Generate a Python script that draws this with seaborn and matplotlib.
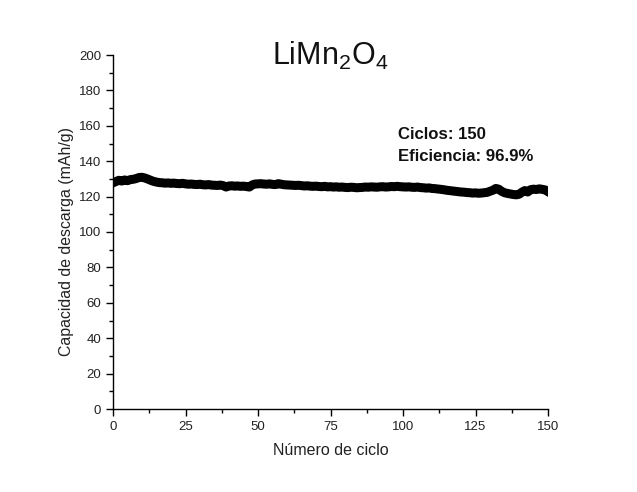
import numpy as np
import pandas as pd
import matplotlib
matplotlib.use("Agg")
import matplotlib.pyplot as plt
import seaborn as sns
from matplotlib.ticker import MultipleLocator

capacidad = [
    128.5, 129.2, 128.8, 129.4, 129.0,
    129.6, 129.8, 130.2, 130.8, 130.9,
    130.5, 129.9, 129.2, 128.6, 128.2,
    127.9, 127.8, 127.6, 127.7, 127.5,
    127.6, 127.4, 127.3, 127.5, 127.2,
    127.0, 127.1, 126.9, 126.8, 127.0,
    126.7, 126.6, 126.8, 126.5, 126.4,
    126.3, 126.5, 126.2, 125.4, 126.0,
    126.1, 125.9, 126.0, 125.8, 125.9,
    125.7, 125.4, 126.6, 127.1, 127.2,
    127.3, 127.1, 127.0, 127.2, 126.9,
    126.8, 127.3, 127.0, 126.7, 126.6,
    126.5, 126.4, 126.3, 126.4, 126.2,
    126.0, 126.1, 125.9, 125.8, 125.9,
    125.7, 125.6, 125.8, 125.5, 125.6,
    125.4, 125.5, 125.3, 125.4, 125.2,
    125.1, 125.3, 125.2, 125.0, 125.1,
    125.2, 125.4, 125.3, 125.5, 125.4,
    125.3, 125.5, 125.6, 125.4, 125.5,
    125.7, 125.6, 125.8, 125.6, 125.5,
    125.4, 125.5, 125.3, 125.2, 125.4,
    125.1, 125.0, 124.8, 124.9, 124.6,
    124.5, 124.3, 124.1, 123.9, 123.6,
    123.4, 123.2, 123.0, 122.8, 122.6,
    122.5, 122.3, 122.2, 122.0, 122.1,
    121.9, 122.0, 122.2, 122.4, 123.0,
    123.6, 124.6, 124.2, 123.0, 122.2,
    121.8, 121.5, 121.2, 121.0, 121.3,
    122.5, 123.4, 122.6, 123.9, 124.2,
    124.0, 124.4, 124.1, 123.8, 122.8,
]
ciclos = list(range(1, len(capacidad) + 1))

titulo = "LiMn$_2$O$_4$"
xlabel = "Número de ciclo"
ylabel = "Capacidad de descarga (mAh/g)"
anotaciones = ["Ciclos: 150", "Eficiencia: 96.9%"]

df = pd.DataFrame({"ciclo": ciclos, "capacidad": capacidad})

sns.set_style("ticks")
plt.rcParams["font.family"] = ["Liberation Sans", "DejaVu Sans"]
plt.rcParams["mathtext.fontset"] = "custom"
plt.rcParams["mathtext.rm"] = "Liberation Sans"
plt.rcParams["mathtext.it"] = "Liberation Sans"

fig = plt.figure(figsize=(6.37, 4.92), dpi=100)
ax = fig.add_axes([113 / 637, 1 - 409 / 492, (548 - 113) / 637, (409 - 55) / 492])

sns.lineplot(data=df, x="ciclo", y="capacidad", ax=ax, color="black",
             linewidth=6.5, legend=False)
for l in ax.lines:
    l.set_solid_capstyle("projecting")

ax.set_xlim(0, 150)
ax.set_ylim(0, 200)
ax.xaxis.set_major_locator(MultipleLocator(25))
ax.xaxis.set_minor_locator(MultipleLocator(12.5))
ax.yaxis.set_major_locator(MultipleLocator(20))
ax.yaxis.set_minor_locator(MultipleLocator(10))
ax.tick_params(which="major", direction="out", length=5, width=1, colors="black",
               labelsize=9.5, labelcolor="#222222")
ax.tick_params(which="minor", direction="out", length=3, width=1, colors="black")
for s in ["top", "right"]:
    ax.spines[s].set_visible(False)
for s in ["left", "bottom"]:
    ax.spines[s].set_linewidth(1)
    ax.spines[s].set_color("black")

ax.set_xlabel(xlabel, fontsize=11.5, color="#222222")
ax.set_ylabel(ylabel, fontsize=11.4, color="#222222")
ax.xaxis.set_label_coords(0.5, -(443 - 409) / 354)
ax.yaxis.set_label_coords(-(113 - 74) / 435, (409 - 242) / 354)

ax.text(0.5, 0.972, titulo, transform=ax.transAxes, ha="center", va="baseline",
        fontsize=22, color="#111111")

ax.text(0.655, 0.762, anotaciones[0], transform=ax.transAxes, ha="left",
        va="baseline", fontsize=12.1, fontweight="bold", color="#111111")
ax.text(0.655, 0.700, anotaciones[1], transform=ax.transAxes, ha="left",
        va="baseline", fontsize=12.1, fontweight="bold", color="#111111")

fig.savefig("out.png", dpi=100)
